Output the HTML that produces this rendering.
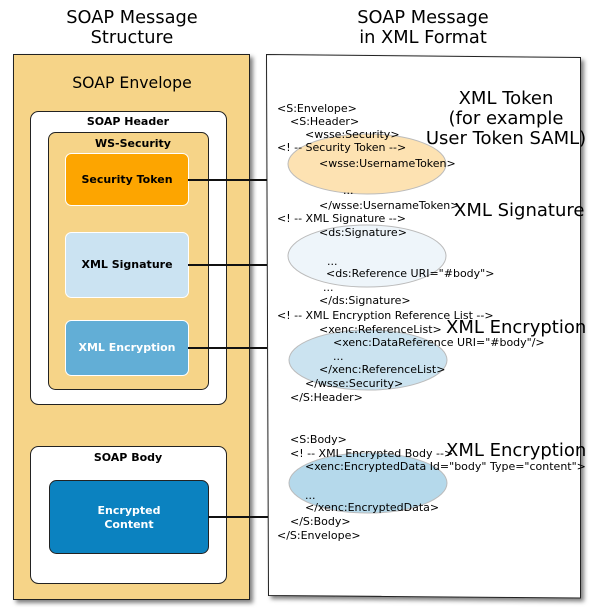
<!DOCTYPE html>
<html><head><meta charset="utf-8"><style>
html,body{margin:0;padding:0;background:#fff;}
svg{display:block;}
text{font-family:"DejaVu Sans","Liberation Sans",sans-serif;}
.c text{font-size:11px;fill:#000;}
.b{font-weight:bold;}
.big text{font-size:18px;}
</style></head><body>
<svg width="592" height="615" viewBox="0 0 592 615" xmlns="http://www.w3.org/2000/svg">
<defs><filter id="sh" x="-5%" y="-5%" width="115%" height="115%"><feDropShadow dx="3" dy="3" stdDeviation="2" flood-color="#000" flood-opacity="0.5"/></filter></defs>
<text x="132" y="23" font-size="17.8" text-anchor="middle">SOAP Message</text>
<text x="132" y="43" font-size="17.8" text-anchor="middle">Structure</text>
<text x="423" y="23" font-size="17.8" text-anchor="middle">SOAP Message</text>
<text x="423" y="43" font-size="17.8" text-anchor="middle">in XML Format</text>

<rect x="13.5" y="54.5" width="236" height="545" fill="#f6d488" stroke="#222" filter="url(#sh)"/>
<text x="132" y="88" font-size="15.7" text-anchor="middle">SOAP Envelope</text>
<rect x="30.5" y="111.5" width="196" height="293" rx="8" fill="#fff" stroke="#222"/>
<text x="128" y="125" font-size="11" class="b" text-anchor="middle">SOAP Header</text>
<rect x="48.5" y="132.5" width="160" height="257" rx="7" fill="#f6d488" stroke="#222"/>
<text x="133" y="147" font-size="11" class="b" text-anchor="middle">WS-Security</text>
<rect x="65.5" y="153.5" width="123" height="52" rx="6" fill="#fda500" stroke="#fff"/>
<text x="127" y="183" font-size="11" class="b" text-anchor="middle">Security Token</text>
<rect x="65.5" y="232.5" width="123" height="65" rx="6" fill="#cbe3f2" stroke="#fff"/>
<text x="127" y="268" font-size="11" class="b" text-anchor="middle">XML Signature</text>
<rect x="65.5" y="320.5" width="123" height="55" rx="6" fill="#62aed6" stroke="#fff"/>
<text x="127" y="351" font-size="11" class="b" text-anchor="middle" fill="#fff">XML Encryption</text>
<rect x="30.5" y="446.5" width="196" height="137" rx="8" fill="#fff" stroke="#222"/>
<text x="128" y="461" font-size="11" class="b" text-anchor="middle">SOAP Body</text>
<rect x="49.5" y="480.5" width="159" height="73" rx="7" fill="#0b82c0" stroke="#222"/>
<text x="129" y="514" font-size="11" class="b" text-anchor="middle" fill="#fff">Encrypted</text>
<text x="129" y="528" font-size="11" class="b" text-anchor="middle" fill="#fff">Content</text>

<polygon points="266.5,54.5 580.5,57.5 580.5,598 268.5,595.5" fill="#fff" stroke="#222" filter="url(#sh)"/>

<g stroke="#111" stroke-width="2">
<line x1="188" y1="180" x2="267" y2="180"/>
<line x1="188" y1="265" x2="267" y2="265"/>
<line x1="188" y1="348" x2="267" y2="348"/>
<line x1="208" y1="517" x2="268" y2="517"/>
</g>

<ellipse cx="367" cy="164" rx="79" ry="30" fill="#fde2b2" stroke="#bbb"/>
<ellipse cx="367" cy="256" rx="79" ry="31" fill="#eef5fa" stroke="#bbb"/>
<ellipse cx="368" cy="360" rx="79" ry="30" fill="#cbe3f0" stroke="#bbb"/>
<ellipse cx="368" cy="483" rx="79" ry="30" fill="#b5d9eb" stroke="#bbb"/>

<g class="c">
<text x="277" y="112">&lt;S:Envelope&gt;</text>
<text x="290" y="125">&lt;S:Header&gt;</text>
<text x="305" y="138">&lt;wsse:Security&gt;</text>
<text x="277" y="151">&lt;! -- Security Token --&gt;</text>
<text x="319" y="167">&lt;wsse:UsernameToken&gt;</text>
<text x="343" y="194">...</text>
<text x="319" y="209">&lt;/wsse:UsernameToken&gt;</text>
<text x="277" y="222">&lt;! -- XML Signature --&gt;</text>
<text x="319" y="236">&lt;ds:Signature&gt;</text>
<text x="327" y="265">...</text>
<text x="326" y="277">&lt;ds:Reference URI="#body"&gt;</text>
<text x="323" y="291">...</text>
<text x="319" y="304">&lt;/ds:Signature&gt;</text>
<text x="277" y="319">&lt;! -- XML Encryption Reference List --&gt;</text>
<text x="319" y="333">&lt;xenc:ReferenceList&gt;</text>
<text x="333" y="346">&lt;xenc:DataReference URI="#body"/&gt;</text>
<text x="333" y="360">...</text>
<text x="319" y="373">&lt;/xenc:ReferenceList&gt;</text>
<text x="305" y="387">&lt;/wsse:Security&gt;</text>
<text x="290" y="401">&lt;/S:Header&gt;</text>
<text x="290" y="443">&lt;S:Body&gt;</text>
<text x="290" y="457">&lt;! -- XML Encrypted Body  --&gt;</text>
<text x="305" y="470">&lt;xenc:EncryptedData Id="body" Type="content"&gt;</text>
<text x="305" y="499">...</text>
<text x="305" y="511">&lt;/xenc:EncryptedData&gt;</text>
<text x="290" y="525">&lt;/S:Body&gt;</text>
<text x="277" y="539">&lt;/S:Envelope&gt;</text>
</g>

<g class="big">
<text x="506" y="104" text-anchor="middle">XML Token</text>
<text x="506" y="124" text-anchor="middle">(for example</text>
<text x="506" y="144" text-anchor="middle">User Token SAML)</text>
<text x="454" y="216">XML Signature</text>
<text x="446" y="333">XML Encryption</text>
<text x="446" y="456">XML Encryption</text>
</g>
</svg>
</body></html>
